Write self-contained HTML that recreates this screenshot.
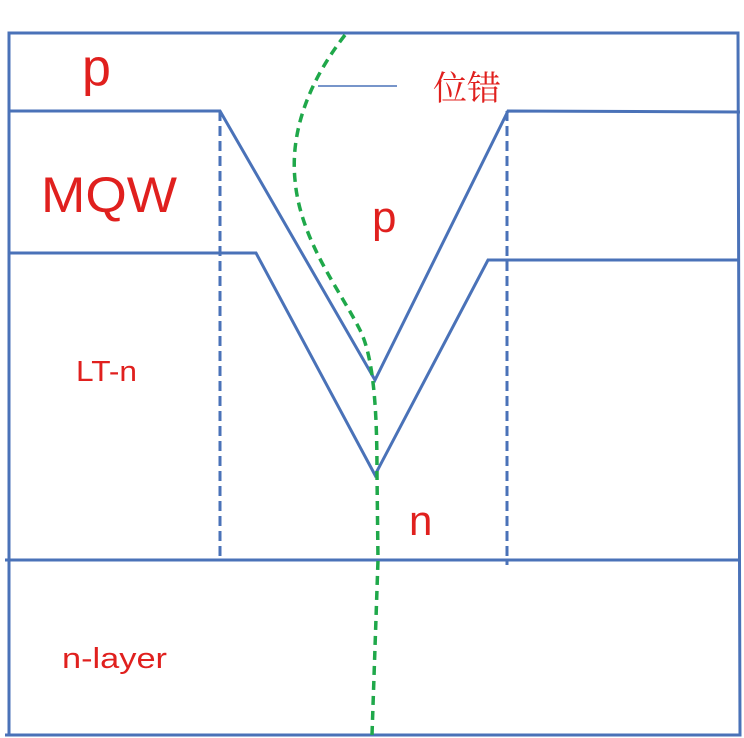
<!DOCTYPE html>
<html><head><meta charset="utf-8"><style>html,body{margin:0;padding:0;background:#fff;}svg{display:block}</style></head>
<body>
<svg width="744" height="738" viewBox="0 0 744 738" xmlns="http://www.w3.org/2000/svg">
<rect width="744" height="738" fill="#fff"/>
<g stroke="#4a72b8" stroke-width="3" fill="none">
<polyline points="9,735 9,33 738,33 740,735 5,735"/>
<polyline points="9,111 220,111 375,380 508,111 740,112"/>
<polyline points="9,253 256,253 375,475 488,260 740,260"/>
<line x1="5" y1="560" x2="740" y2="560"/>
<line x1="318" y1="86" x2="397" y2="86" stroke-width="1.5"/>
<line x1="220" y1="111" x2="220" y2="556" stroke-dasharray="10,5" stroke-width="3"/>
<line x1="507" y1="111" x2="507" y2="565" stroke-dasharray="10,5" stroke-width="3"/>
</g>
<path d="M345,35 C310,80 290,130 295,180 C300,240 340,290 360,330 C375,360 377,420 377,475 L378,560 L372,735" stroke="#1fa84a" stroke-width="3.5" fill="none" stroke-dasharray="9,6"/>
<g fill="#e0201e" font-family="Liberation Sans, sans-serif">
<text x="82" y="85" font-size="52">p</text>
<text x="41" y="212" font-size="50" textLength="136" lengthAdjust="spacingAndGlyphs">MQW</text>
<text x="372" y="232" font-size="44">p</text>
<text x="76" y="381" font-size="29" textLength="61" lengthAdjust="spacingAndGlyphs">LT-n</text>
<text x="409" y="535" font-size="42">n</text>
<text x="62" y="668" font-size="29" textLength="105" lengthAdjust="spacingAndGlyphs">n-layer</text>
<text x="433" y="100" font-size="34" font-family="Liberation Serif, Noto Serif CJK SC, serif">位错</text>
</g>
</svg>
</body></html>
